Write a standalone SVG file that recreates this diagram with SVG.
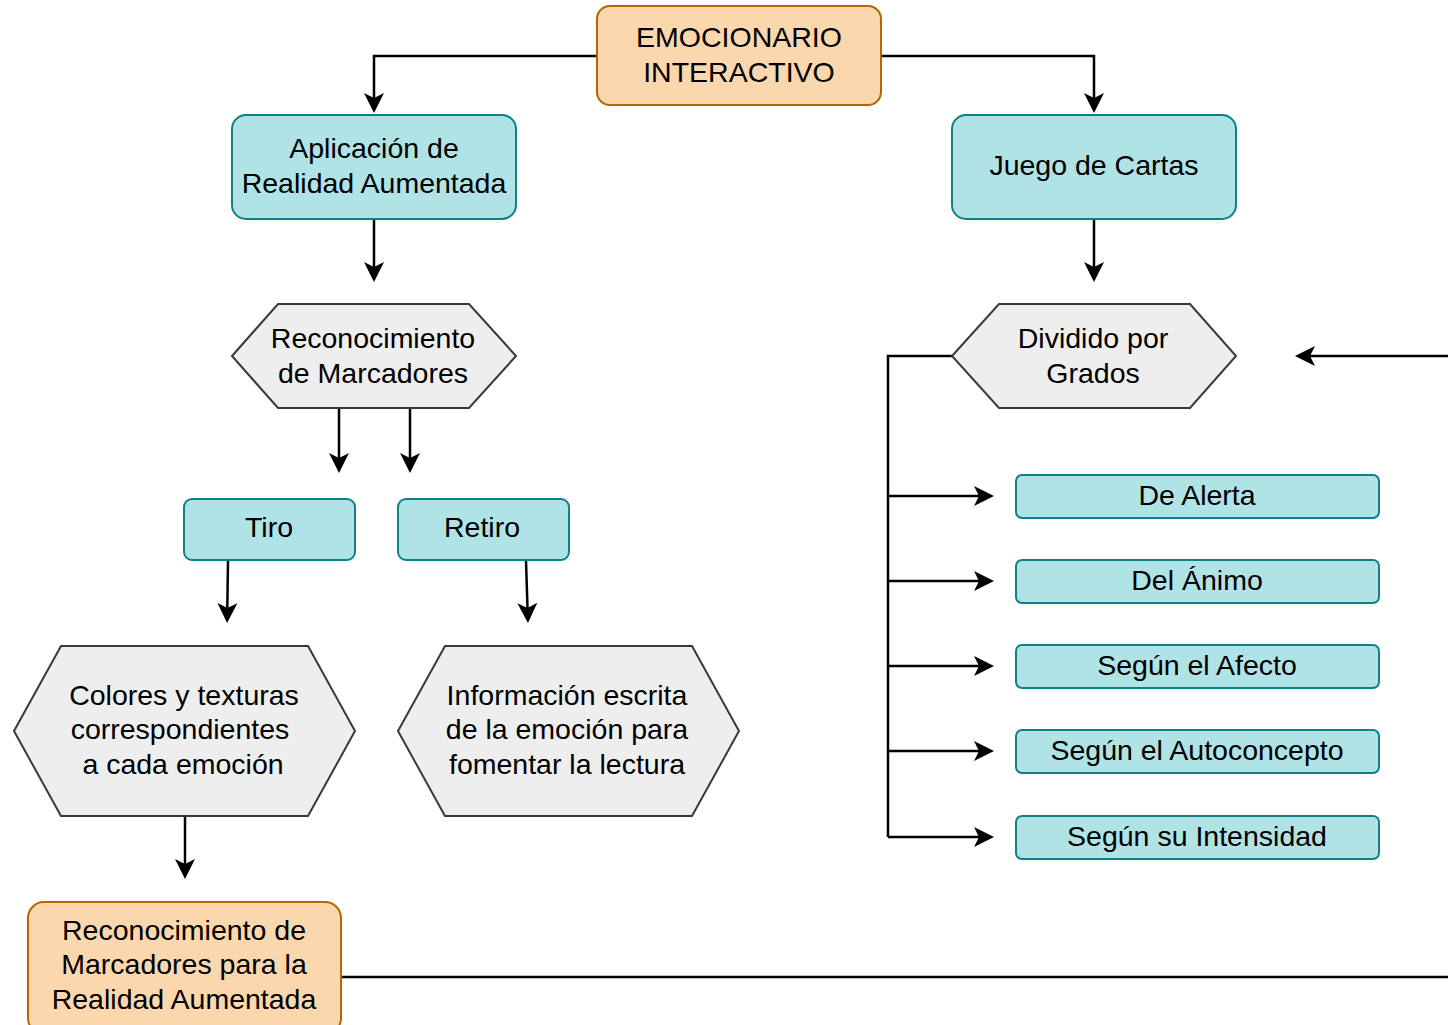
<svg xmlns="http://www.w3.org/2000/svg" width="1448" height="1025" viewBox="0 0 1448 1025">
<style>
.t{font-family:"Liberation Sans",Arial,sans-serif;font-size:28.5px;fill:#000;text-anchor:middle}
.o{fill:#fad7ac;stroke:#b46504;stroke-width:2}
.c{fill:#b0e3e6;stroke:#0e8088;stroke-width:2}
.h{fill:#eeeeee;stroke:#36393d;stroke-width:2}
.e{fill:none;stroke:#000;stroke-width:2.5}
.a{marker-end:url(#ar)}
</style>
<defs>
<marker id="ar" viewBox="0 0 22 22" markerWidth="22" markerHeight="22" markerUnits="userSpaceOnUse" refX="5" refY="11" orient="auto">
<path d="M0,1 L20,11 L0,21 L5,11 Z" fill="#000"/>
</marker>
</defs>
<rect width="1448" height="1025" fill="#fff"/>
<g id="connectors">
<path class="e a" d="M597,56 H374 V98"/>
<path class="e a" d="M881,56 H1094 V98"/>
<path class="e a" d="M374,219 V267"/>
<path class="e a" d="M1094,219 V267"/>
<path class="e a" d="M339,408 V458"/>
<path class="e a" d="M410,408 V458"/>
<path class="e a" d="M228,561 L227.3,608"/>
<path class="e a" d="M526,561 L527.5,608"/>
<path class="e a" d="M185,816 V864"/>
<path class="e" d="M341,977 H1448"/>
<path class="e a" d="M1448,356 H1310"/>
<path class="e" d="M952,356 H888 V837"/>
<path class="e a" d="M888,496 H979"/>
<path class="e a" d="M888,581 H979"/>
<path class="e a" d="M888,666 H979"/>
<path class="e a" d="M888,751 H979"/>
<path class="e a" d="M888,837 H979"/>
</g>
<g id="emocionario">
<rect class="o" x="597" y="6" width="284" height="99" rx="13"/>
<text class="t" x="739" y="47">EMOCIONARIO</text>
<text class="t" x="739" y="82">INTERACTIVO</text>
</g>
<g id="aplicacion">
<rect class="c" x="232" y="115" width="284" height="104" rx="14"/>
<text class="t" x="374" y="158">Aplicación de</text>
<text class="t" x="374" y="193">Realidad Aumentada</text>
</g>
<g id="juego">
<rect class="c" x="952" y="115" width="284" height="104" rx="14"/>
<text class="t" x="1094" y="175">Juego de Cartas</text>
</g>
<g id="reconocimiento">
<polygon class="h" points="232,356 278,304 469,304 516,356 469,408 278,408"/>
<text class="t" x="373" y="348">Reconocimiento</text>
<text class="t" x="373" y="383">de Marcadores</text>
</g>
<g id="dividido">
<polygon class="h" points="952,356 999,304 1190,304 1236,356 1190,408 999,408"/>
<text class="t" x="1093" y="348">Dividido por</text>
<text class="t" x="1093" y="383">Grados</text>
</g>
<g id="tiro">
<rect class="c" x="184" y="499" width="171" height="61" rx="8"/>
<text class="t" x="269" y="537">Tiro</text>
</g>
<g id="retiro">
<rect class="c" x="398" y="499" width="171" height="61" rx="8"/>
<text class="t" x="482" y="537">Retiro</text>
</g>
<g id="colores">
<polygon class="h" points="14,731 61,646 308,646 355,731 308,816 61,816"/>
<text class="t" x="184" y="705">Colores y texturas</text>
<text class="t" x="180" y="739">correspondientes</text>
<text class="t" x="183" y="774">a cada emoción</text>
</g>
<g id="informacion">
<polygon class="h" points="398,731 445,646 692,646 739,731 692,816 445,816"/>
<text class="t" x="567" y="705">Información escrita</text>
<text class="t" x="567" y="739">de la emoción para</text>
<text class="t" x="567" y="774">fomentar la lectura</text>
</g>
<g id="marcadores-ra">
<rect class="o" x="28" y="902" width="313" height="132" rx="16"/>
<text class="t" x="184" y="940">Reconocimiento de</text>
<text class="t" x="184" y="974">Marcadores para la</text>
<text class="t" x="184" y="1009">Realidad Aumentada</text>
</g>
<g id="alerta">
<rect class="c" x="1016" y="475" width="363" height="43" rx="6"/>
<text class="t" x="1197" y="505">De Alerta</text>
</g>
<g id="animo">
<rect class="c" x="1016" y="560" width="363" height="43" rx="6"/>
<text class="t" x="1197" y="590">Del Ánimo</text>
</g>
<g id="afecto">
<rect class="c" x="1016" y="645" width="363" height="43" rx="6"/>
<text class="t" x="1197" y="675">Según el Afecto</text>
</g>
<g id="autoconcepto">
<rect class="c" x="1016" y="730" width="363" height="43" rx="6"/>
<text class="t" x="1197" y="760">Según el Autoconcepto</text>
</g>
<g id="intensidad">
<rect class="c" x="1016" y="816" width="363" height="43" rx="6"/>
<text class="t" x="1197" y="846">Según su Intensidad</text>
</g>
</svg>
